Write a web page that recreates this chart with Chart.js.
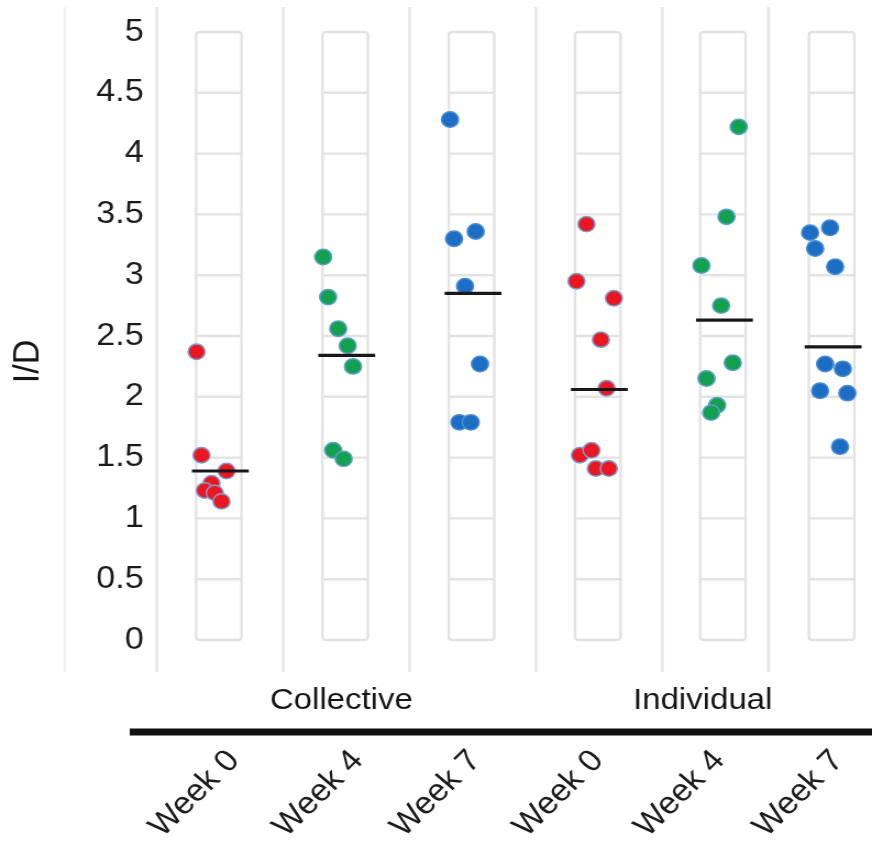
<!DOCTYPE html>
<html>
<head>
<meta charset="utf-8">
<script src="https://cdn.jsdelivr.net/npm/chart.js@4"></script>
<style>
  html, body { margin: 0; padding: 0; background: #ffffff; overflow: hidden; }
  #c { display: block; width: 872px; height: 845px; }
</style>
</head>
<body>
<canvas id="c" width="793" height="845" style="width:872px;height:845px;"></canvas>
<script>
// ---------------- data ----------------
const weekLabels  = ['Week 0', 'Week 4', 'Week 7', 'Week 0', 'Week 4', 'Week 7'];
const groupLabels = ['Collective', 'Individual'];
const yTicks      = [0, 0.5, 1, 1.5, 2, 2.5, 3, 3.5, 4, 4.5, 5];

// I/D values per group and their horizontal jitter (in category units)
const collectiveW0       = [2.37, 1.52, 1.39, 1.29, 1.23, 1.21, 1.14];
const collectiveW0Jitter = [-0.176, -0.137, 0.061, -0.058, -0.111, -0.032, 0.021];
const collectiveW4       = [3.15, 2.82, 2.56, 2.42, 2.25, 1.56, 1.49];
const collectiveW4Jitter = [-0.174, -0.135, -0.055, 0.02, 0.062, -0.095, -0.012];
const collectiveW7       = [4.28, 3.30, 3.36, 2.91, 2.27, 1.79, 1.79];
const collectiveW7Jitter = [-0.17, -0.138, 0.033, -0.051, 0.067, -0.096, -0.006];
const individualW0       = [3.42, 2.95, 2.81, 2.47, 2.07, 1.52, 1.56, 1.41, 1.41];
const individualW0Jitter = [-0.09, -0.169, 0.127, 0.024, 0.069, -0.142, -0.05, -0.016, 0.087];
const individualW4       = [4.22, 3.48, 3.08, 2.75, 2.28, 2.15, 1.93, 1.87];
const individualW4Jitter = [0.125, 0.028, -0.17, -0.014, 0.078, -0.13, -0.046, -0.093];
const individualW7       = [3.35, 3.39, 3.22, 3.07, 2.27, 2.23, 2.05, 2.03, 1.59];
const individualW7Jitter = [-0.17, -0.012, -0.13, 0.028, -0.051, 0.089, -0.091, 0.125, 0.067];

// group mean lines
const means = [1.39, 2.34, 2.85, 2.06, 2.63, 2.41];

// ---------------- layout (axis units) ----------------
const catPos   = [0.99, 1.99, 2.99, 3.99, 4.98, 5.84];
const sepPos   = [-0.23, 0.5, 1.5, 2.5, 3.5, 4.5, 5.34];
const weekPos  = [1.11, 2.09, 3.02, 3.99, 4.95, 5.89];
const groupPos = [1.96, 4.82];
const X_MIN = 0.5, X_MAX = 6.16, Y_MIN = -0.263, Y_MAX = 5;
const SEP_TOP = 5.206, BOX_HALF = 0.18, MEAN_HALF = 0.225, MEAN_SHIFT = 0.012;

const RED = '#ea1720', GREEN = '#13a150', BLUE = '#1b6ec4';
const FONT = "'Liberation Sans', Arial, Helvetica, sans-serif";

const groups = [
  { vals: collectiveW0, jit: collectiveW0Jitter, fill: RED,   edge: '#7f9bd2' },
  { vals: collectiveW4, jit: collectiveW4Jitter, fill: GREEN, edge: '#5b9fcf' },
  { vals: collectiveW7, jit: collectiveW7Jitter, fill: BLUE,  edge: '#4a8bd4' },
  { vals: individualW0, jit: individualW0Jitter, fill: RED,   edge: '#7f9bd2' },
  { vals: individualW4, jit: individualW4Jitter, fill: GREEN, edge: '#5b9fcf' },
  { vals: individualW7, jit: individualW7Jitter, fill: BLUE,  edge: '#4a8bd4' }
];

const datasets = [];
groups.forEach((g, i) => {
  datasets.push({
    type: 'line',
    label: 'mean ' + i,
    data: [
      { x: catPos[i] + MEAN_SHIFT - MEAN_HALF, y: means[i] },
      { x: catPos[i] + MEAN_SHIFT + MEAN_HALF, y: means[i] }
    ],
    showLine: true,
    borderColor: '#181818',
    borderWidth: 3.2,
    pointRadius: 0,
    fill: false,
    order: 0
  });
});
groups.forEach((g, i) => {
  datasets.push({
    type: 'scatter',
    label: weekLabels[i],
    data: g.vals.map((v, k) => ({ x: catPos[i] + g.jit[k], y: v })),
    backgroundColor: g.fill,
    borderColor: g.edge,
    borderWidth: 1.5,
    pointRadius: 7.7,
    order: 1
  });
});

// background decoration drawn through the chart's scales
const decor = {
  id: 'decor',
  beforeDatasetsDraw(chart) {
    const { ctx, chartArea, scales: { x, y } } = chart;
    ctx.save();
    sepPos.forEach((v, i) => {
      const px = x.getPixelForValue(v);
      ctx.strokeStyle = i === 0 ? '#f2f2f2' : '#e7e7e7';
      ctx.lineWidth = 2.7;
      ctx.beginPath();
      ctx.moveTo(px, y.getPixelForValue(SEP_TOP));
      ctx.lineTo(px, chartArea.bottom);
      ctx.stroke();
    });
    const t = y.getPixelForValue(yTicks[yTicks.length - 1]);
    const b = y.getPixelForValue(yTicks[0]);
    catPos.forEach(c => {
      const l = x.getPixelForValue(c - BOX_HALF);
      const r = x.getPixelForValue(c + BOX_HALF);
      ctx.strokeStyle = '#e3e3e3';
      ctx.lineWidth = 2.4;
      ctx.beginPath();
      if (ctx.roundRect) ctx.roundRect(l, t, r - l, b - t, 3); else ctx.rect(l, t, r - l, b - t);
      ctx.stroke();
      yTicks.slice(1, -1).forEach(v => {
        const py = y.getPixelForValue(v);
        ctx.beginPath();
        ctx.moveTo(l, py);
        ctx.lineTo(r, py);
        ctx.stroke();
      });
    });
    ctx.restore();
  },
  afterDraw(chart) {
    const { ctx, scales: { x } } = chart;
    ctx.save();
    ctx.fillStyle = '#101010';
    ctx.fillRect(118, x.top - 3.5, chart.width - 118, 7);
    ctx.restore();
  }
};

new Chart(document.getElementById('c'), {
  type: 'scatter',
  data: { datasets },
  plugins: [decor],
  options: {
    responsive: false,
    devicePixelRatio: 1,
    animation: false,
    events: [],
    layout: { autoPadding: false, padding: { left: 5.5, right: 0, top: 32, bottom: 0 } },
    plugins: { legend: { display: false }, tooltip: { enabled: false } },
    scales: {
      x: {
        type: 'linear',
        position: 'bottom',
        weight: 1,
        min: X_MIN, max: X_MAX,
        afterBuildTicks: s => { s.ticks = weekPos.map(v => ({ value: v })); },
        afterFit: s => { s.height = 113; s.paddingLeft = 0; s.paddingRight = 0; },
        grid: { display: true, drawOnChartArea: false, drawTicks: false, color: 'rgba(0,0,0,0)' },
        border: { display: false },
        ticks: {
          autoSkip: false,
          minRotation: 47, maxRotation: 47,
          padding: 11,
          color: '#1a1a1a',
          font: { family: FONT, size: 31 },
          callback: (v, i) => weekLabels[i]
        }
      },
      xg: {
        type: 'linear',
        position: 'bottom',
        weight: 0,
        min: X_MIN, max: X_MAX,
        afterBuildTicks: s => { s.ticks = groupPos.map(v => ({ value: v })); },
        afterFit: s => { s.height = 60; s.paddingLeft = 0; s.paddingRight = 0; },
        grid: { display: false, drawTicks: false },
        border: { display: false },
        ticks: {
          autoSkip: false,
          minRotation: 0, maxRotation: 0,
          padding: 10.4,
          color: '#151515',
          font: { family: FONT, size: 30 },
          callback: (v, i) => groupLabels[i]
        }
      },
      y: {
        type: 'linear',
        position: 'left',
        min: Y_MIN, max: Y_MAX,
        afterBuildTicks: s => { s.ticks = yTicks.map(v => ({ value: v })); },
        afterFit: s => { s.width = 137.2; },
        grid: { display: false, drawTicks: false },
        border: { display: false },
        title: {
          display: true,
          text: 'I/D  ',
          color: '#151515',
          font: { family: FONT, size: 34 },
          padding: { top: 0, bottom: 0 }
        },
        ticks: {
          padding: 12,
          color: '#1a1a1a',
          font: { family: FONT, size: 31 },
          callback: v => String(v)
        }
      }
    }
  }
});
</script>
</body>
</html>
